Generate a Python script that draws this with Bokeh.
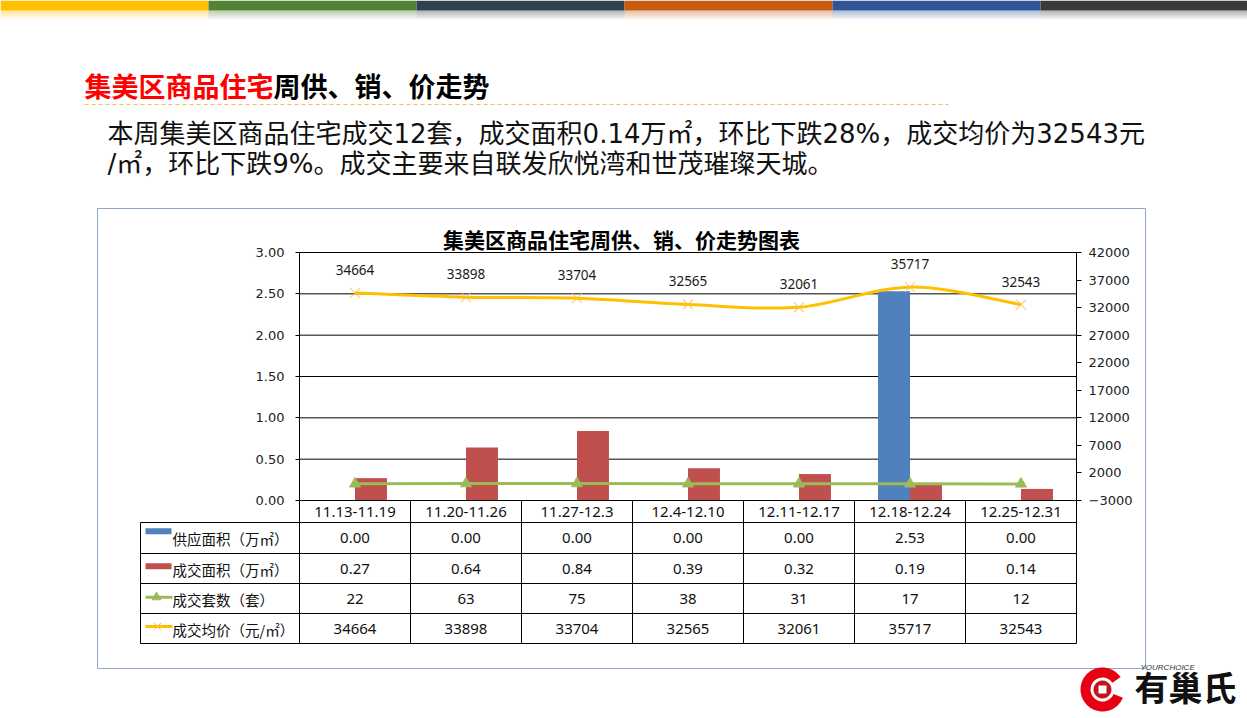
from bokeh.plotting import figure
from bokeh.models import Range1d, LinearAxis, FixedTicker, NumeralTickFormatter, BasicTickFormatter
from bokeh.core.properties import value
from bokeh.embed import file_html
from bokeh.resources import INLINE

# ---------------- data ----------------
categories = ["11.13-11.19", "11.20-11.26", "11.27-12.3", "12.4-12.10",
              "12.11-12.17", "12.18-12.24", "12.25-12.31"]
supply_area = [0.00, 0.00, 0.00, 0.00, 0.00, 2.53, 0.00]      # 供应面积（万㎡）
deal_area = [0.27, 0.64, 0.84, 0.39, 0.32, 0.19, 0.14]        # 成交面积（万㎡）
deal_units = [22, 63, 75, 38, 31, 17, 12]                     # 成交套数（套）
avg_price = [34664, 33898, 33704, 32565, 32061, 35717, 32543] # 成交均价（元/㎡）
series_names = ["供应面积（万㎡）", "成交面积（万㎡）", "成交套数（套）", "成交均价（元/㎡）"]
left_ticks = [0, 0.5, 1.0, 1.5, 2.0, 2.5, 3.0]
right_ticks = [-3000, 2000, 7000, 12000, 17000, 22000, 27000, 32000, 37000, 42000]

page_title_red = "集美区商品住宅"
page_title_black = "周供、销、价走势"
para_line1 = "本周集美区商品住宅成交12套，成交面积0.14万㎡，环比下跌28%，成交均价为32543元"
para_line2 = "/㎡，环比下跌9%。成交主要来自联发欣悦湾和世茂璀璨天城。"
chart_title = "集美区商品住宅周供、销、价走势图表"

# ---------------- layout (page pixels) ----------------
W, H = 1247, 718
PX0, PX1 = 299, 1076        # plot area left/right
PY0, PY1 = 252, 500         # plot area top/bottom
N = len(categories)
LMIN, LMAX = left_ticks[0], left_ticks[-1]
RMIN, RMAX = right_ticks[0], right_ticks[-1]

ux = N / (PX1 - PX0)
x_range = Range1d(-PX0 * ux, N + (W - PX1) * ux)
uy = (LMAX - LMIN) / (PY1 - PY0)
y_range = Range1d(LMIN - (H - PY1) * uy, LMAX + PY0 * uy)
ur = (RMAX - RMIN) / (PY1 - PY0)
r_range = Range1d(RMIN - (H - PY1) * ur, RMAX + PY0 * ur)

p = figure(width=W, height=H, x_range=x_range, y_range=y_range,
           output_backend="svg", toolbar_location=None,
           x_axis_location=None, y_axis_location=None, min_border=0)
p.outline_line_color = None
p.background_fill_color = "white"
p.border_fill_color = "white"
p.grid.visible = False
p.extra_x_ranges = {"px": Range1d(0, W)}
p.extra_y_ranges = {"px": Range1d(H, 0), "right": r_range}
PX = dict(x_range_name="px", y_range_name="px")

CJK = value("Noto Sans CJK SC")
MIX = value("'DejaVu Sans', 'Noto Sans CJK SC'")
NUM = value("'Noto Sans', 'Noto Sans CJK SC'")

# ---------------- slide decoration ----------------
bar_cols = ["#FFC000", "#548235", "#323F4F", "#C55A11", "#2F5597", "#3A3A3A"]
edges = [0, 208, 416, 624, 832, 1040, 1247]
p.quad(left=edges[:-1], right=edges[1:], top=[0] * 6, bottom=[10] * 6,
       fill_color=bar_cols, line_color=None, **PX)
for k in range(9):
    p.quad(left=edges[:-1], right=edges[1:], top=[10 + k] * 6, bottom=[11 + k] * 6,
           fill_color=bar_cols, fill_alpha=0.42 * (1 - k / 9.0), line_color=None, **PX)

p.text(x=[84], y=[85], text=[page_title_red], text_font=CJK, text_font_style="bold",
       text_font_size="27px", text_color="#FF0000", text_baseline="middle", **PX)
p.text(x=[84 + 7 * 27], y=[85], text=[page_title_black], text_font=CJK, text_font_style="bold",
       text_font_size="27px", text_color="#000000", text_baseline="middle", **PX)
p.line(x=[84, 948], y=[104, 104], line_color="#F2C14E", line_dash="4 3", line_width=1, **PX)

p.text(x=[107, 107], y=[133, 163], text=[para_line1, para_line2], text_font=MIX,
       text_font_size="26px", text_color="#111111", text_baseline="middle", **PX)

# chart box
p.quad(left=[97], right=[1145], top=[208], bottom=[668], fill_color="white",
       line_color="#8FA8C8", line_width=1, **PX)
p.text(x=[621], y=[238], text=[chart_title], text_font=CJK, text_font_style="bold",
       text_font_size="21px", text_color="#000000", text_align="center",
       text_baseline="middle", **PX)

# ---------------- plot area ----------------
xc = [i + 0.5 for i in range(N)]
grid_vals = [v for v in left_ticks if v > LMIN]
p.segment(x0=[0] * len(grid_vals), x1=[N] * len(grid_vals), y0=grid_vals, y1=grid_vals,
          line_color="black", line_width=1)

bw = 0.288
p.vbar(x=[c - bw / 2 for c in xc], top=supply_area, bottom=0, width=bw,
       fill_color="#4F81BD", line_color=None)
p.vbar(x=[c + bw / 2 for c in xc], top=deal_area, bottom=0, width=bw,
       fill_color="#C0504D", line_color=None)

# units (secondary axis)
p.line(x=xc, y=deal_units, y_range_name="right", line_color="#9BBB59", line_width=3)
p.scatter(x=xc, y=deal_units, y_range_name="right", marker="triangle", size=11,
          fill_color="#9BBB59", line_color="#9BBB59")

# price (secondary axis), smoothed line
pts = list(zip(xc, avg_price))
bx0, by0, bx1, by1, c0x, c0y, c1x, c1y = ([] for _ in range(8))
for i in range(N - 1):
    q0 = pts[i - 1] if i > 0 else pts[i]
    q1, q2 = pts[i], pts[i + 1]
    q3 = pts[i + 2] if i + 2 < N else pts[i + 1]
    bx0.append(q1[0]); by0.append(q1[1]); bx1.append(q2[0]); by1.append(q2[1])
    c0x.append(q1[0] + (q2[0] - q0[0]) / 6.0); c0y.append(q1[1] + (q2[1] - q0[1]) / 6.0)
    c1x.append(q2[0] - (q3[0] - q1[0]) / 6.0); c1y.append(q2[1] - (q3[1] - q1[1]) / 6.0)
p.bezier(x0=bx0, y0=by0, x1=bx1, y1=by1, cx0=c0x, cy0=c0y, cx1=c1x, cy1=c1y,
         y_range_name="right", line_color="#FFC000", line_width=3)
p.scatter(x=xc, y=avg_price, y_range_name="right", marker="x", size=14,
          line_color="#F5C04A", line_alpha=0.75, line_width=1.2)
p.text(x=xc, y=avg_price, text=[str(v) for v in avg_price], y_range_name="right",
       y_offset=-23, text_font=NUM, text_font_size="13.5px", text_color="#1A1A1A",
       text_align="center", text_baseline="middle")

# axes
lax = LinearAxis(fixed_location=0, bounds=(LMIN, LMAX),
                 ticker=FixedTicker(ticks=left_ticks, minor_ticks=[]),
                 formatter=NumeralTickFormatter(format="0.00"),
                 major_tick_out=4, major_tick_in=0, minor_tick_out=0, minor_tick_in=0,
                 major_label_text_font="DejaVu Sans", major_label_text_font_size="13px",
                 major_label_text_color="#222222", major_label_standoff=11,
                 axis_line_color="black", major_tick_line_color="black")
p.add_layout(lax, "left")
rax = LinearAxis(y_range_name="right", fixed_location=N, bounds=(RMIN, RMAX),
                 ticker=FixedTicker(ticks=right_ticks, minor_ticks=[]),
                 formatter=BasicTickFormatter(use_scientific=False),
                 major_tick_out=5, major_tick_in=0, minor_tick_out=0, minor_tick_in=0,
                 major_label_text_font="DejaVu Sans", major_label_text_font_size="13px",
                 major_label_text_color="#222222", major_label_standoff=7,
                 axis_line_color="black", major_tick_line_color="black")
p.add_layout(rax, "right")

# ---------------- data table ----------------
TH0, TH1 = 500, 522
row_edges = [522, 553, 583, 613, 643]
TL = 140
p.segment(x0=[0], x1=[N], y0=[LMIN], y1=[LMIN], line_color="black", line_width=1)
p.segment(x0=[TL] * len(row_edges), x1=[PX1] * len(row_edges), y0=row_edges, y1=row_edges,
          line_color="black", line_width=1, **PX)
p.segment(x0=[TL], x1=[TL], y0=[row_edges[0]], y1=[row_edges[-1]], line_color="black", **PX)
p.segment(x0=list(range(N + 1)), x1=list(range(N + 1)), y0=[TH0] * (N + 1),
          y1=[row_edges[-1]] * (N + 1), y_range_name="px", line_color="black", line_width=1)

p.text(x=xc, y=[(TH0 + TH1) / 2] * N, text=categories, y_range_name="px", text_font=NUM,
       text_font_size="15px", text_color="#111111", text_align="center", text_baseline="middle")

row_mid = [(row_edges[i] + row_edges[i + 1]) / 2 for i in range(4)]
rows = [["%.2f" % v for v in supply_area], ["%.2f" % v for v in deal_area],
        [str(v) for v in deal_units], [str(v) for v in avg_price]]
for r in range(4):
    p.text(x=xc, y=[row_mid[r]] * N, text=rows[r], y_range_name="px", text_font=NUM,
           text_font_size="15px", text_color="#111111", text_align="center",
           text_baseline="middle")

p.text(x=[172] * 4, y=[m + 0.5 for m in row_mid], text=series_names, text_font=CJK,
       text_font_size="14.5px", text_color="#111111", text_baseline="middle", **PX)
icon_y = [530.7, 565.7, 596.7, 626]
p.quad(left=[145], right=[171], top=[icon_y[0] - 3], bottom=[icon_y[0] + 3],
       fill_color="#4F81BD", line_color=None, **PX)
p.quad(left=[145], right=[171], top=[icon_y[1] - 3], bottom=[icon_y[1] + 3],
       fill_color="#C0504D", line_color=None, **PX)
p.line(x=[145, 172], y=[icon_y[2], icon_y[2]], line_color="#9BBB59", line_width=3, **PX)
p.scatter(x=[156], y=[icon_y[2]], marker="triangle", size=9, fill_color="#9BBB59",
          line_color="#9BBB59", **PX)
p.line(x=[145, 172], y=[icon_y[3], icon_y[3]], line_color="#FFC000", line_width=3, **PX)
p.scatter(x=[157], y=[icon_y[3]], marker="x", size=10, line_color="#F5C04A", **PX)

# ---------------- logo ----------------
p.annular_wedge(x=[1102], y=[689], inner_radius=12, outer_radius=22, start_angle=0.6,
                end_angle=5.9, fill_color="#E60012", line_color=None, **PX)
p.wedge(x=[1102], y=[689], radius=9, start_angle=0, end_angle=6.283,
        fill_color="#C8101E", line_color=None, **PX)
p.quad(left=[1098], right=[1106], top=[685], bottom=[693], fill_color="white",
       line_color=None, **PX)
p.text(x=[1134], y=[686], text=["有巢氏"], text_font=CJK, text_font_style="bold",
       text_font_size="34px", text_color="#111111", text_baseline="middle", **PX)
p.text(x=[1140], y=[667], text=["YOURCHOICE"], text_font=value("Liberation Sans"),
       text_font_style="italic", text_font_size="8px", text_color="#333333",
       text_baseline="middle", **PX)

open("out.html", "w").write(file_html(p, INLINE))
